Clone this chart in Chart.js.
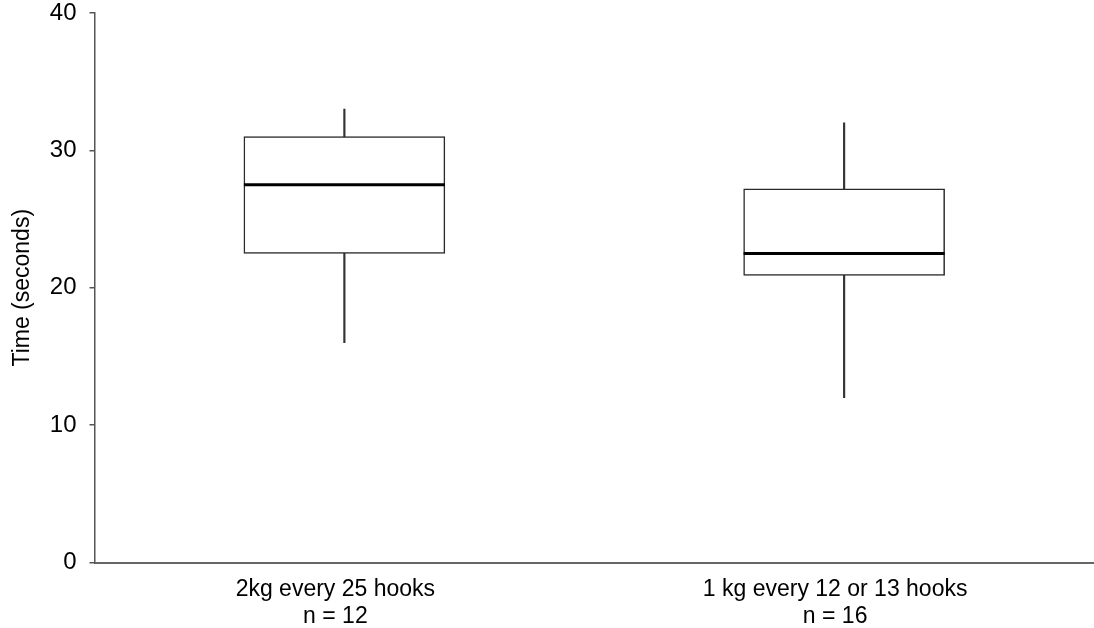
<!DOCTYPE html>
<html>
<head>
<meta charset="utf-8">
<script src="https://cdn.jsdelivr.net/npm/chart.js@4.4.1/dist/chart.umd.min.js"></script>
<style>
  html, body { margin: 0; padding: 0; background: #fff; overflow: hidden; }
  #wrap { position: relative; width: 1094px; height: 628px; }
</style>
</head>
<body>
<div id="wrap"><canvas id="c" width="1094" height="628"></canvas></div>
<script>
// Treatment groups (two-line tick labels)
const categories = [['2kg every 25 hooks', 'n = 12'], ['1 kg every 12 or 13 hooks', 'n = 16']];
// Five-number summaries of the time per treatment (seconds)
const minVals = [16, 12];
const q1Vals = [22.5, 20.9];
const medianVals = [27.5, 22.5];
const q3Vals = [31, 27.2];
const maxVals = [33, 32];
const yTicks = [0, 10, 20, 30, 40];

const FONT = "'Liberation Sans', Arial, sans-serif";
const BOX_WIDTH = 201;

const boxes = q1Vals.map((q1, i) => [q1, q3Vals[i]]);
const whiskers = minVals.map((mn, i) => [mn, maxVals[i]]);

// Median lines across each box, positioned via the chart scales
const medianPlugin = {
  id: 'medianLines',
  afterDatasetsDraw(chart) {
    const { ctx, scales: { x, y } } = chart;
    ctx.save();
    ctx.strokeStyle = '#000';
    ctx.lineWidth = 3;
    medianVals.forEach((m, i) => {
      const cx = x.getPixelForValue(i);
      const py = y.getPixelForValue(m);
      ctx.beginPath();
      ctx.moveTo(cx - BOX_WIDTH / 2, py);
      ctx.lineTo(cx + BOX_WIDTH / 2, py);
      ctx.stroke();
    });
    ctx.restore();
  }
};

new Chart(document.getElementById('c'), {
  type: 'bar',
  data: {
    labels: categories,
    datasets: [
      {
        label: 'Interquartile range',
        data: boxes,
        backgroundColor: '#ffffff',
        borderColor: '#2a2a2a',
        borderWidth: 1.5,
        borderSkipped: false,
        barThickness: BOX_WIDTH,
        grouped: false,
        order: 0
      },
      {
        label: 'Range',
        data: whiskers,
        backgroundColor: '#333333',
        borderWidth: 0,
        barThickness: 1.5,
        grouped: false,
        order: 1
      }
    ]
  },
  plugins: [medianPlugin],
  options: {
    responsive: false,
    animation: false,
    devicePixelRatio: 1,
    layout: { padding: { top: 13, right: 0, left: 0, bottom: 0 } },
    plugins: {
      legend: { display: false },
      tooltip: { enabled: false }
    },
    scales: {
      x: {
        offset: true,
        grid: { display: false },
        border: { display: true, color: '#666', width: 2 },
        ticks: {
          color: '#000',
          font: { family: FONT, size: 23 },
          padding: 5,
          labelOffset: -9,
          maxRotation: 0,
          autoSkip: false
        },
        afterFit(scale) {
          scale.height = 65.5;
          scale.paddingLeft = 0;
          scale.paddingRight = 0;
        }
      },
      y: {
        min: 0,
        max: 40,
        afterBuildTicks(scale) { scale.ticks = yTicks.map(v => ({ value: v })); },
        grid: {
          drawOnChartArea: false,
          drawTicks: true,
          tickLength: 5,
          color: '#555',
          lineWidth: 1.5
        },
        border: { display: true, color: '#555', width: 1.5 },
        ticks: {
          color: '#000',
          font: { family: FONT, size: 24 },
          padding: 13
        },
        title: {
          display: true,
          text: 'Time (seconds)',
          color: '#000',
          font: { family: FONT, size: 23 },
          padding: { top: 9, bottom: 0 }
        },
        afterFit(scale) {
          scale.width = 94.5;
          scale.paddingTop = 0;
          scale.paddingBottom = 0;
        }
      }
    }
  }
});
</script>
</body>
</html>
